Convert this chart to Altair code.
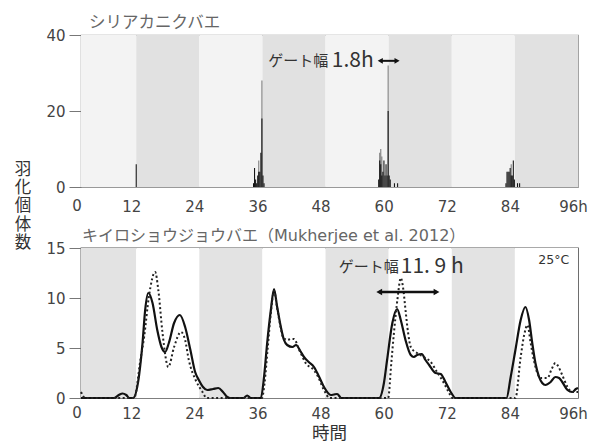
import altair as alt
import pandas as pd

FONT = "Noto Sans CJK JP"
FONT_MIX = "DejaVu Sans, Noto Sans CJK JP"

# ---------------- data ----------------
# light/dark cycle bands (hours)
band_start = [0, 12, 24, 36, 48, 60, 72, 84]
band_end = [12, 24, 36, 48, 60, 72, 84, 96]
top_band_tone = ["t_light", "t_dark", "t_light", "t_dark", "t_light", "t_dark", "t_light", "t_dark"]
bottom_band_tone = ["b_grey", "b_white", "b_grey", "b_white", "b_grey", "b_white", "b_grey", "b_white"]

# シリアカニクバエ: emergence histogram (bin start in h, 0.2 h bins)
hist_hour = [11.9,
             34.2, 34.4, 34.6, 34.8, 35.0, 35.2, 35.4, 35.6, 35.8, 36.0, 36.2,
             58.0, 58.2, 58.4, 58.6, 58.8, 59.0, 59.2, 59.4, 59.6, 59.8, 60.0, 60.2, 61.0, 61.6,
             82.2, 82.4, 82.6, 82.8, 83.0, 83.2, 83.4, 83.6, 83.8, 84.4, 84.8]
hist_count = [6,
              1, 5, 2, 1, 3, 4, 4, 9, 18, 3, 1,
              2, 7, 6, 3, 4, 7, 3, 6, 3, 20, 3, 2, 1, 1,
              1, 4, 4, 4, 5, 3, 3, 7, 2, 1, 1]
# lighter (grey) tall parts of the spikes
hist_grey_hour = [35.2, 35.8, 58.2, 58.4, 58.6, 59.8, 83.2]
hist_grey_count = [7, 28, 9, 10, 8, 32, 6]

# キイロショウジョウバエ: solid curve
solid_hour = [1.5, 7.8, 8.7, 9.4, 10.1, 10.7, 11.4, 12.5, 13.2, 13.7, 14.3, 15.1, 16.0, 16.8,
              17.5, 18.2, 19.2, 20.3, 21.3, 22.3, 23.2, 23.9, 24.7, 25.5, 26.6, 27.6, 28.5,
              29.3, 29.8, 32.4, 33.1, 33.8, 35.7, 36.3, 36.9, 37.6, 38.2, 38.8, 39.5, 40.1,
              40.7, 41.7, 42.4, 43.2, 43.9, 44.8, 45.8, 46.7, 47.7, 49.0, 49.6, 50.2, 51.0,
              58.2, 59.1, 59.7, 60.7, 61.6, 62.3, 63.2, 64.2, 64.8, 65.4, 66.3, 67.0, 67.7,
              68.9, 69.9, 70.8, 71.8, 72.7, 82.4, 83.2, 84.1, 85.1, 86.0, 86.7, 87.3, 87.9,
              88.6, 89.2, 89.8, 90.8, 91.7, 92.4, 93.0, 94.0, 94.9, 95.6, 96.0]
solid_value = [0, 0, 0.3, 0.45, 0.3, 0, 0, 2.1, 5.5, 8.8, 10.5, 9.5, 6.8, 5.1,
               4.6, 5.5, 7.5, 8.3, 7.1, 4.8, 2.6, 1.8, 1.1, 0.8, 0.9, 1.0, 0.6,
               0.1, 0, 0, 0.25, 0, 0, 2.1, 5.5, 8.8, 10.9, 9.1, 7.1, 5.8,
               5.3, 5.1, 5.3, 4.7, 4.1, 3.6, 3.1, 2.2, 1.1, 0.3, 0.35, 0.4, 0,
               0, 1.5, 3.8, 7.5, 8.9, 7.8, 5.8, 4.3, 4.1, 4.3, 4.4, 3.8, 3.3,
               2.5, 2.4, 1.6, 0.6, 0, 0, 2.1, 4.8, 7.8, 9.1, 7.8, 5.5, 3.5,
               2.1, 1.5, 1.3, 1.6, 2.1, 2.0, 1.6, 0.8, 0.6, 0.9, 1.0]

# dotted curve
dot_hour = [1.5, 2.3, 11.6, 12.8, 13.5, 14.4, 15.6, 16.2, 17.0, 18.1, 19.2, 20.5, 21.3, 22.0,
            23.3, 24.6, 25.4, 35.9, 36.4, 37.0, 37.6, 38.2, 38.8, 39.4, 39.9, 40.7, 41.4,
            42.0, 43.0, 44.5, 45.4, 46.4, 47.7, 48.8, 59.9, 60.5, 61.0, 61.7, 62.3, 62.8,
            63.2, 63.7, 64.2, 65.4, 66.7, 68.0, 69.2, 70.5, 71.5, 72.1, 84.1, 85.1, 85.8,
            86.4, 87.0, 87.6, 88.9, 90.2, 91.0, 91.7, 92.3, 93.0, 94.0, 94.9, 96.0]
dot_value = [0.6, 0, 0, 3.8, 6.1, 10.1, 12.6, 10.8, 6.5, 3.1, 5.1, 6.6, 5.8, 3.8,
             1.8, 0.6, 0, 0, 1.5, 5.0, 8.5, 10.7, 9.0, 7.2, 6.1, 5.8, 5.9,
             5.9, 4.8, 3.3, 3.0, 2.3, 0.8, 0, 0, 3.5, 6.5, 10.0, 12.0, 10.8,
             8.8, 6.5, 5.1, 4.5, 4.1, 3.6, 2.6, 1.5, 0.5, 0, 0, 4.1, 6.4,
             7.3, 5.5, 3.8, 2.0, 2.0, 2.9, 3.5, 3.1, 2.3, 1.1, 0.6, 0.6]

x_ticks = [12, 24, 36, 48, 60, 72, 84, 96]

# ---------------- tables ----------------
bands = pd.DataFrame({"start": band_start, "end": band_end,
                      "top": top_band_tone, "bottom": bottom_band_tone})
hist = pd.DataFrame({"h": hist_hour, "n": hist_count})
hist["h2"] = hist["h"] + 0.2
hist_g = pd.DataFrame({"h": hist_grey_hour, "n": hist_grey_count})
hist_g["h2"] = hist_g["h"] + 0.2
solid = pd.DataFrame({"h": solid_hour, "v": solid_value})
dotted = pd.DataFrame({"h": dot_hour, "v": dot_value})

TW, TH = 497, 152
BW, BH = 497, 150
xs = alt.Scale(domain=[1.5, 96], nice=False, zero=False)

band_colors = alt.Scale(domain=["t_light", "t_dark", "b_grey", "b_white"],
                        range=["#f3f3f3", "#e1e1e1", "#e3e3e3", "#ffffff"])


def x_axis(pad):
    return alt.Axis(values=x_ticks, title=None, ticks=False, domain=False, grid=False,
                    labelExpr="datum.value == 96 ? '96h' : datum.label",
                    labelFont=FONT_MIX, labelFontSize=15, labelColor="#444",
                    labelPadding=pad, labelFlush=False, labelOffset=-5)


def y_axis(vals):
    return alt.Axis(values=vals, title=None, grid=False, domain=False, tickSize=12,
                    tickColor="#777", labelFont=FONT_MIX, labelFontSize=15, labelColor="#444",
                    labelPadding=4)


zero_lab = pd.DataFrame({"h": [0], "t": ["0"]})

# ---------------- top panel ----------------
t_bands = alt.Chart(bands).mark_rect(clip=True).encode(
    x=alt.X("start:Q", scale=xs, axis=x_axis(12)),
    x2="end:Q",
    color=alt.Color("top:N", scale=band_colors, legend=None),
)
t_grey = alt.Chart(hist_g).mark_rect(color="#7a7a7a").encode(
    x=alt.X("h:Q", scale=xs), x2="h2:Q",
    y=alt.Y("n:Q", scale=alt.Scale(domain=[0, 40], nice=False), axis=y_axis([0, 20, 40])),
    y2=alt.datum(0),
)
t_black = alt.Chart(hist).mark_rect(color="#111").encode(
    x=alt.X("h:Q", scale=xs), x2="h2:Q",
    y=alt.Y("n:Q"), y2=alt.datum(0),
)
t_note1 = alt.Chart(pd.DataFrame({"h": [48.5], "v": [33.2], "t": ["ゲート幅"]})).mark_text(
    align="right", baseline="middle", font=FONT, fontSize=15, color="#333").encode(
    x=alt.X("h:Q", scale=xs), y=alt.Y("v:Q"), text="t:N")
t_note2 = alt.Chart(pd.DataFrame({"h": [49.2], "v": [33.2], "t": ["1.8h"]})).mark_text(
    align="left", baseline="middle", font=FONT, fontSize=21, color="#333").encode(
    x=alt.X("h:Q", scale=xs), y=alt.Y("v:Q"), text="t:N")
t_arrow = alt.Chart(pd.DataFrame({"h1": [58.4], "h2": [61.6], "v": [33.2]})).mark_rule(
    color="#111", strokeWidth=2).encode(x=alt.X("h1:Q", scale=xs), x2="h2:Q", y="v:Q")
t_heads = alt.Chart(pd.DataFrame({"h": [58.4, 61.6], "v": [33.2, 33.2], "d": ["L", "R"]})).mark_point(
    filled=True, color="#111", size=35, opacity=1).encode(
    x=alt.X("h:Q", scale=xs), y="v:Q",
    shape=alt.Shape("d:N", scale=alt.Scale(domain=["L", "R"],
                                          range=["triangle-left", "triangle-right"]), legend=None))
t_zero = alt.Chart(zero_lab).mark_text(baseline="top", font=FONT_MIX, fontSize=15, color="#444",
                                       dy=12, dx=4).encode(
    x=alt.X("h:Q", scale=xs), y=alt.value(TH), text="t:N")
y_title = alt.Chart(pd.DataFrame({"a": [0]})).mark_text(
    baseline="middle", align="center", font=FONT, fontSize=16.5, lineHeight=18.2, color="#333").encode(
    x=alt.value(-58), y=alt.value(135), text=alt.value(["羽", "化", "個", "体", "数"]))

top = alt.layer(t_bands, t_grey, t_black, t_note1, t_note2, t_arrow, t_heads, t_zero, y_title).properties(
    width=TW, height=TH,
    title=alt.TitleParams("シリアカニクバエ", anchor="start", frame="group", font=FONT, fontSize=16.5,
                          fontWeight="normal", color="#666", dx=8, offset=-3),
    view=alt.ViewBackground(stroke="#999", strokeWidth=1.2),
)

# ---------------- bottom panel ----------------
b_bands = alt.Chart(bands).mark_rect(clip=True).encode(
    x=alt.X("start:Q", scale=xs, axis=x_axis(8)),
    x2="end:Q",
    color=alt.Color("bottom:N", scale=band_colors, legend=None),
)
b_solid = alt.Chart(solid).mark_line(color="#111", strokeWidth=2.2, interpolate="monotone").encode(
    x=alt.X("h:Q", scale=xs),
    y=alt.Y("v:Q", scale=alt.Scale(domain=[0, 15], nice=False), axis=y_axis([0, 5, 10, 15])),
)
b_dot = alt.Chart(dotted).mark_line(color="#222", strokeWidth=2, strokeDash=[2, 2.5],
                                    interpolate="monotone").encode(
    x=alt.X("h:Q", scale=xs), y=alt.Y("v:Q"))
b_note1 = alt.Chart(pd.DataFrame({"h": [61.9], "v": [13.1], "t": ["ゲート幅"]})).mark_text(
    align="right", baseline="middle", font=FONT, fontSize=15, color="#333").encode(
    x=alt.X("h:Q", scale=xs), y="v:Q", text="t:N")
b_note2 = alt.Chart(pd.DataFrame({"h": [62.3], "v": [13.1], "t": ["11. 9 h"]})).mark_text(
    align="left", baseline="middle", font=FONT, fontSize=21, color="#333").encode(
    x=alt.X("h:Q", scale=xs), y="v:Q", text="t:N")
b_note3 = alt.Chart(pd.DataFrame({"h": [91.4], "v": [13.8], "t": ["25°C"]})).mark_text(
    align="center", baseline="middle", font=FONT_MIX, fontSize=12.5, color="#333").encode(
    x=alt.X("h:Q", scale=xs), y="v:Q", text="t:N")
b_arrow = alt.Chart(pd.DataFrame({"h1": [58.2], "h2": [69.1], "v": [10.6]})).mark_rule(
    color="#111", strokeWidth=2.5).encode(x=alt.X("h1:Q", scale=xs), x2="h2:Q", y="v:Q")
b_heads = alt.Chart(pd.DataFrame({"h": [58.2, 69.1], "v": [10.6, 10.6], "d": ["L", "R"]})).mark_point(
    filled=True, color="#111", size=45, opacity=1).encode(
    x=alt.X("h:Q", scale=xs), y="v:Q",
    shape=alt.Shape("d:N", scale=alt.Scale(domain=["L", "R"],
                                          range=["triangle-left", "triangle-right"]), legend=None))
b_zero = alt.Chart(zero_lab).mark_text(baseline="top", font=FONT_MIX, fontSize=15, color="#444",
                                       dy=8, dx=4).encode(
    x=alt.X("h:Q", scale=xs), y=alt.value(BH), text="t:N")
x_title = alt.Chart(pd.DataFrame({"a": [0]})).mark_text(
    baseline="middle", align="center", font=FONT, fontSize=17.5, color="#333").encode(
    x=alt.value(BW / 2), y=alt.value(BH + 36), text=alt.value("時間"))

bottom = alt.layer(b_bands, b_solid, b_dot, b_note1, b_note2, b_note3, b_arrow, b_heads,
                   b_zero, x_title).properties(
    width=BW, height=BH,
    title=alt.TitleParams("キイロショウジョウバエ（Mukherjee et al. 2012）", anchor="start", frame="group",
                          font=FONT_MIX, fontSize=16, fontWeight="normal", color="#666", dx=1, offset=-3),
    view=alt.ViewBackground(stroke="#555", strokeWidth=1.3),
)

chart = alt.vconcat(top, bottom, spacing=61, bounds="flush").properties(
    padding={"left": 6, "top": 5, "right": 0, "bottom": 0},
    background="white",
).configure_view(strokeWidth=1.2)

chart.save("out.html", embed_options={"renderer": "svg", "actions": False})
